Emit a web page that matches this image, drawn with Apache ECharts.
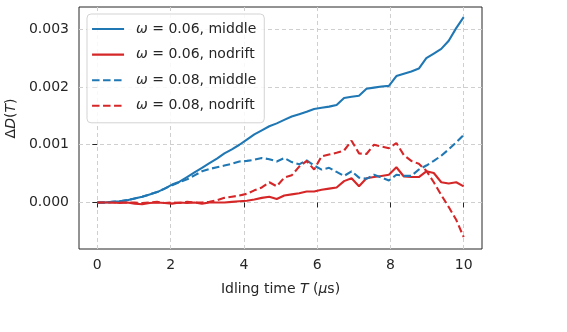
<!DOCTYPE html>
<html>
<head>
<meta charset="utf-8">
<script src="https://cdn.jsdelivr.net/npm/echarts@6/dist/echarts.min.js"></script>
<style>
  html, body { margin: 0; padding: 0; background: #fff; }
  #chart { width: 567px; height: 332px; }
</style>
</head>
<body>
<div id="chart"></div>
<script>
// idling time T (us), 50 samples
var idleT = [0, 0.204, 0.408, 0.612, 0.816, 1.020, 1.224, 1.429, 1.633, 1.837,
  2.041, 2.245, 2.449, 2.653, 2.857, 3.061, 3.265, 3.469, 3.673, 3.878,
  4.082, 4.286, 4.490, 4.694, 4.898, 5.102, 5.306, 5.510, 5.714, 5.918,
  6.122, 6.327, 6.531, 6.735, 6.939, 7.143, 7.347, 7.551, 7.755, 7.959,
  8.163, 8.367, 8.571, 8.776, 8.980, 9.184, 9.388, 9.592, 9.796, 10.0];

// Delta D(T), in units of 1e-3
var w06middle = [0, 0, 0.01, 0.02, 0.04, 0.07, 0.10, 0.14, 0.18, 0.24,
  0.31, 0.36, 0.44, 0.52, 0.60, 0.68, 0.76, 0.85, 0.92, 1.00,
  1.09, 1.18, 1.25, 1.32, 1.37, 1.43, 1.49, 1.53, 1.57, 1.62,
  1.64, 1.66, 1.69, 1.81, 1.83, 1.85, 1.97, 1.99, 2.01, 2.02,
  2.19, 2.23, 2.27, 2.32, 2.50, 2.58, 2.66, 2.80, 3.02, 3.21];
var w06nodrift = [0, 0, 0, -0.01, 0, -0.02, -0.03, -0.01, 0, -0.01,
  -0.02, 0, -0.01, 0, -0.02, 0, 0, 0, 0.01, 0.02,
  0.03, 0.05, 0.08, 0.10, 0.06, 0.12, 0.14, 0.16, 0.19, 0.19,
  0.22, 0.24, 0.26, 0.37, 0.42, 0.28, 0.42, 0.44, 0.46, 0.48,
  0.61, 0.45, 0.44, 0.44, 0.54, 0.51, 0.35, 0.33, 0.35, 0.28];
var w08middle = [0, 0, 0.01, 0.02, 0.04, 0.07, 0.10, 0.14, 0.18, 0.24,
  0.30, 0.35, 0.40, 0.47, 0.54, 0.58, 0.61, 0.64, 0.67, 0.71,
  0.72, 0.74, 0.77, 0.75, 0.71, 0.77, 0.70, 0.66, 0.73, 0.64,
  0.57, 0.60, 0.53, 0.46, 0.54, 0.43, 0.41, 0.48, 0.43, 0.38,
  0.48, 0.46, 0.46, 0.57, 0.64, 0.72, 0.81, 0.92, 1.04, 1.17];
var w08nodrift = [0, 0, 0, 0, 0, 0, -0.01, 0, 0.01, -0.01,
  0, -0.01, 0.01, 0, 0, 0.01, 0.04, 0.08, 0.10, 0.12,
  0.15, 0.21, 0.26, 0.35, 0.28, 0.43, 0.47, 0.62, 0.72, 0.57,
  0.80, 0.83, 0.86, 0.90, 1.07, 0.85, 0.84, 1.00, 0.97, 0.94,
  1.03, 0.82, 0.72, 0.67, 0.55, 0.35, 0.13, -0.08, -0.30, -0.60];

var xTicks = [0, 2, 4, 6, 8, 10];
var yTicks = [0, 1, 2, 3];

var BLUE = '#1f77b4', RED = '#d62728';
var FONT = 'DejaVu Sans';
var INK = '#262626';

function pairs(ys) {
  return idleT.map(function (t, i) { return [t, ys[i]]; });
}

function mkSeries(name, ys, color, dashed) {
  return {
    name: name,
    type: 'line',
    data: pairs(ys),
    showSymbol: false,
    symbol: 'none',
    lineStyle: { color: color, width: 2.1, type: dashed ? [7.5, 3.5] : 'solid' },
    itemStyle: { color: color },
    z: 3
  };
}

var legendText = {
  'w06m': '{i|ω} = 0.06, middle',
  'w06n': '{i|ω} = 0.06, nodrift',
  'w08m': '{i|ω} = 0.08, middle',
  'w08n': '{i|ω} = 0.08, nodrift'
};

var gridLine = { show: true, lineStyle: { color: '#cfcfcf', width: 1, type: [4, 3] } };

var option = {
  animation: false,
  textStyle: { fontFamily: FONT },
  grid: {
    left: 79, right: 85, top: 7, bottom: 83,
    show: true, borderColor: INK, borderWidth: 1,
    outerBoundsMode: 'none', containLabel: false
  },
  legend: {
    orient: 'vertical',
    left: 87, top: 14,
    padding: [8, 8, 10, 4],
    itemWidth: 32, itemHeight: 14, itemGap: 11.6,
    itemStyle: { opacity: 0 },
    lineStyle: { width: 2.1 },
    backgroundColor: 'rgba(255,255,255,0.85)',
    borderColor: '#d3d3d3', borderWidth: 1, borderRadius: 4,
    formatter: function (n) { return legendText[n]; },
    textStyle: {
      fontFamily: FONT, fontSize: 14, color: INK, padding: [0, 0, 0, 7],
      rich: { i: { fontFamily: FONT, fontStyle: 'italic', fontSize: 14, color: INK } }
    },
    data: ['w06m', 'w06n', 'w08m', 'w08n']
  },
  xAxis: {
    type: 'value',
    min: -0.5, max: 10.5,
    axisLine: { show: false },
    axisTick: { show: true, length: 5, customValues: xTicks, lineStyle: { color: INK } },
    axisLabel: { customValues: xTicks, margin: 9, fontSize: 14, color: INK, fontFamily: FONT },
    splitLine: gridLine,
    name: 'Idling time {i|T} ({i|μ}s)',
    nameLocation: 'middle',
    nameGap: 33,
    nameTextStyle: {
      fontSize: 14, color: INK, fontFamily: FONT,
      rich: { i: { fontStyle: 'italic', fontSize: 14, color: INK, fontFamily: FONT } }
    }
  },
  yAxis: {
    type: 'value',
    min: -0.806, max: 3.386,
    axisLine: { show: false },
    axisTick: { show: true, length: 5, customValues: yTicks, lineStyle: { color: INK } },
    axisLabel: {
      customValues: yTicks, margin: 10, fontSize: 14, color: INK, fontFamily: FONT,
      formatter: function (v) { return (v / 1000).toFixed(3); }
    },
    splitLine: gridLine,
    name: '{n|Δ}{i|D}{n|(}{i|T}{n|)}',
    nameLocation: 'middle',
    nameGap: 57,
    nameTextStyle: {
      padding: [0, 0, 0, 19],
      rich: {
        n: { fontSize: 14, color: INK, fontFamily: FONT },
        i: { fontStyle: 'italic', fontSize: 14, color: INK, fontFamily: FONT }
      }
    }
  },
  series: [
    mkSeries('w06m', w06middle, BLUE, false),
    mkSeries('w06n', w06nodrift, RED, false),
    mkSeries('w08m', w08middle, BLUE, true),
    mkSeries('w08n', w08nodrift, RED, true)
  ]
};

var chart = echarts.init(document.getElementById('chart'), null, { renderer: 'canvas' });
chart.setOption(option);
</script>
</body>
</html>
